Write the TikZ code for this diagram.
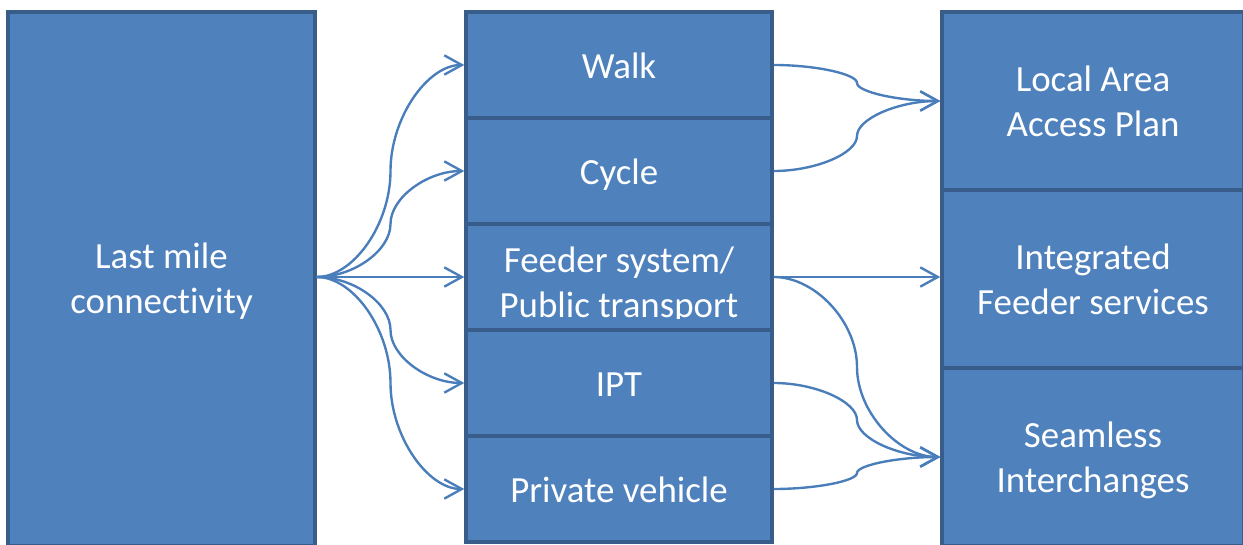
\documentclass[tikz,border=0pt]{standalone}
\usepackage{fontspec}
\setmainfont{Carlito}[Ligatures=NoCommon]
\usetikzlibrary{arrows.meta,calc}
\definecolor{boxfill}{HTML}{4F81BD}
\definecolor{boxline}{HTML}{385D8A}
\definecolor{linkblue}{HTML}{4A7EBB}
\tikzset{
  block/.style={draw=boxline, fill=boxfill, line width=2pt, text=white,
    align=center, inner sep=0pt, font=\fontsize{21}{25.5}\selectfont},
  label/.style={text=white, align=center, inner sep=0pt,
    font=\fontsize{21}{25.5}\selectfont},
  mode/.style={block, minimum width=6.12cm, minimum height=2.12cm,
    text height=15pt, text depth=0pt},
  goal/.style={block, minimum width=6.04cm, minimum height=3.56cm,
    text depth=0pt},
  link/.style={draw=linkblue, line width=1.35pt,
    -{Straight Barb[length=10pt,width=11pt,line width=1.35pt]}},
  % curved elbow: horizontal at both ends, vertical at the middle
  elbow/.style={to path={
    let \p1=(\tikztostart), \p2=(\tikztotarget) in
    .. controls ({\x1+(\x2-\x1)/4},\y1) and ({(\x1+\x2)/2},{\y1+(\y2-\y1)/4})
    .. ({(\x1+\x2)/2},{(\y1+\y2)/2})
    .. controls ({(\x1+\x2)/2},{\y1+3*(\y2-\y1)/4}) and ({\x1+3*(\x2-\x1)/4},\y2)
    .. (\tikztotarget) \tikztonodes}},
}
\begin{document}
\begin{tikzpicture}[x=0.02cm,y=-0.02cm]
  \useasboundingbox (0,0) rectangle (1243,544);
  \clip (0,0) rectangle (1243,544);

  % source
  \node[block, minimum width=6.14cm, minimum height=10.68cm] (last) at (161.5,279) {};
  \node[label] (lasttxt) at (161.5,281) {Last mile\\connectivity};

  % modes
  \node[mode] (walk) at (619,65) {Walk};
  \node[mode] (cycle) at (619,171) {Cycle};
  \node[mode] (feeder) at (619,277) {};
  \node[mode] (ipt) at (619,383) {IPT};
  \node[mode] (priv) at (619,489) {Private vehicle};
  \begin{scope}
    \clip (468,226) rectangle (770,318);
    \node[label] (feedtxt) at (619,285) {Feeder system/\\Public transport};
  \end{scope}

  % outcomes
  \node[goal] (plan) at (1093,101) {Local Area\\Access Plan};
  \node[goal] (integ) at (1093,279) {Integrated\\Feeder services};
  \node[goal] (seam) at (1093,457) {Seamless\\Interchanges};

  % fan out to the modes
  \draw[link] (last.east |- feeder.west) -- (feeder.west);
  \foreach \m in {walk,cycle,ipt,priv}
    \draw[link, elbow] (last.east |- feeder.west) to (\m.west);

  % modes to outcomes
  \draw[link, elbow] (walk.east) to (plan.west);
  \draw[link, elbow] (cycle.east) to (plan.west);
  \draw[link] (feeder.east) -- (feeder.east -| integ.west);
  \draw[link, elbow] (feeder.east) to (seam.west);
  \draw[link, elbow] (ipt.east) to (seam.west);
  \draw[link, elbow] (priv.east) to (seam.west);
\end{tikzpicture}
\end{document}
